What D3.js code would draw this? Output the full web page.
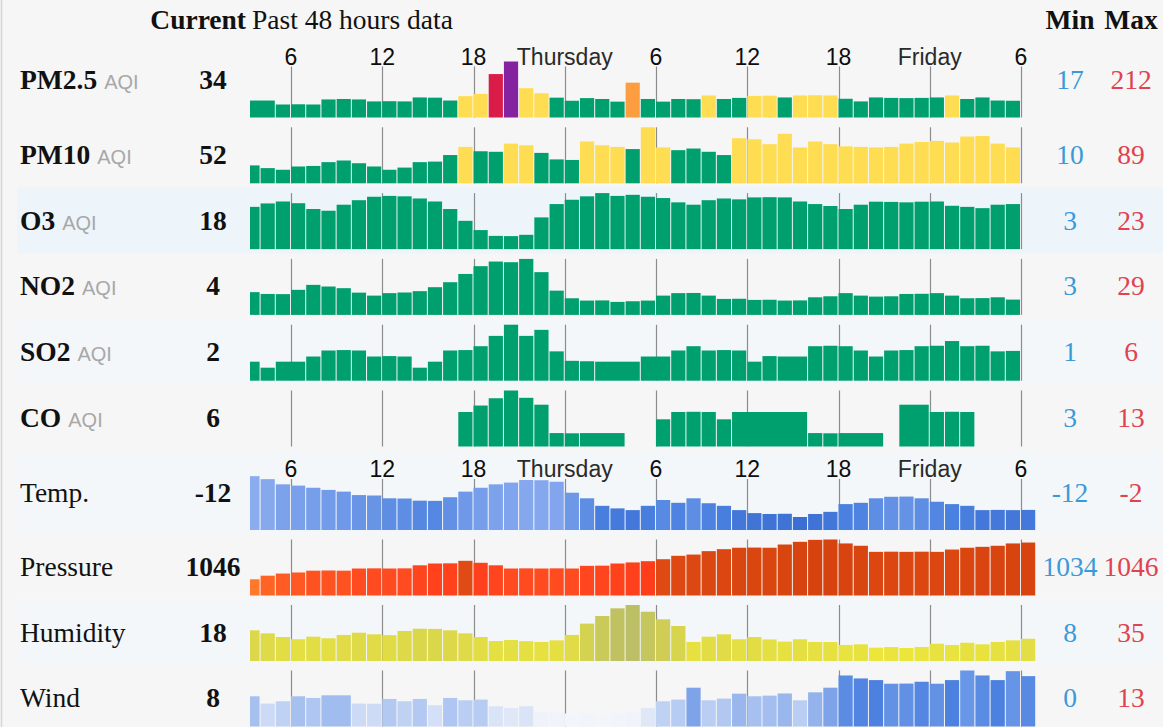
<!DOCTYPE html>
<html><head><meta charset="utf-8">
<script src="https://cdn.jsdelivr.net/npm/d3@7"></script>
<style>
html,body{margin:0;padding:0;background:#f6f6f6;}
svg{display:block;}
</style></head><body>
<svg id="chart" width="1163" height="727"></svg>
<script>
// ---------- data ----------
const aqiHours = [3,4,5,6,7,8,9,10,11,12,13,14,15,16,17,18,19,20,21,22,23,24,25,26,27,28,29,30,31,32,33,34,35,36,37,38,39,40,41,42,43,44,45,46,47,48,49,50,51,52,53];
const wxHours  = [3,4,5,6,7,8,9,10,11,12,13,14,15,16,17,18,19,20,21,22,23,24,25,26,27,28,29,30,31,32,33,34,35,36,37,38,39,40,41,42,43,44,45,46,47,48,49,50,51,52,53,54];
const tickHours  = [6,12,18,24,30,36,42,48,54];
const tickLabels = ["6","12","18","Thursday","6","12","18","Friday","6"];

const rowNames   = ["PM2.5","PM10","O3","NO2","SO2","CO","Temp.","Pressure","Humidity","Wind"];
const rowUnits   = ["AQI","AQI","AQI","AQI","AQI","AQI","","","",""];
const currentVals= ["34","52","18","4","2","6","-12","1046","18","8"];
const minVals    = [17,10,3,3,1,3,-12,1034,8,0];
const maxVals    = [212,89,23,29,6,13,-2,1046,35,13];

const pm25 = [35,35,17,18,17,40,42,40,31,32,31,49,48,35,55,65,155,212,91,68,48,34,46,42,30,116,42,30,42,41,58,42,47,56,57,49,58,59,58,43,31,49,47,46,47,49,58,42,49,35,34];
const pm10 = [19,14,11,17,18,25,28,23,17,11,15,25,26,38,53,45,44,59,56,42,30,29,63,56,53,49,89,52,47,50,44,38,69,67,58,77,52,63,58,54,53,52,53,59,62,64,61,72,73,59,52];
const o3   = [16.6,18.2,19.1,18.3,15.6,14.8,17.6,19.7,21.3,21.7,21.5,20.5,19.1,15.6,10.1,5.8,3.1,3,3.6,11.7,17.9,19.9,21.5,23,21.7,22.2,21.3,20.7,18.7,17.6,19.7,20.5,20.1,21,21.1,21,19.1,17.9,17,15.6,17.6,19,18.9,18.7,19,19.1,17.1,16.6,16,17.6,17.9];
const no2  = [8.9,7.8,7.7,10.3,13.3,12.3,11.3,8.6,6.8,8.3,8.7,9.5,11.9,14.9,19.9,24.6,27.4,27,29,21,9.8,5.2,3.8,3.9,3,3.4,3.8,6.8,8.3,8.4,6.8,4.8,4.9,4.2,4.3,3.8,3.9,5.8,6.4,8.3,6.8,6.2,6.4,7.8,7.9,8.3,6.8,5.2,5.3,5.8,4.4];
const so2  = [1.7,1,1.7,1.7,2.3,3,3.05,3,2.3,2.35,2.3,1,1.7,3,3.05,3.5,4.7,6,4.7,5.4,2.9,1.8,1.75,1.7,1.7,1.7,2.3,2.3,3,3.5,3,3.05,3,1.7,2.35,2.3,2.3,3.5,3.55,3.5,3,2.3,3,3.05,3.5,3.55,4.1,3.5,3.55,2.9,2.95];
const co   = [null,null,null,null,null,null,null,null,null,null,null,null,null,null,8,9.5,11.2,13,11.3,9.7,3.1,3.05,3.1,3.1,3.1,null,null,6.3,8,8.05,8,6.3,8,8,8,8,8,3.1,3.05,3.1,3.1,3.1,null,9.7,9.7,8,8.05,8,null,null,null];
const temp = [-2.5,-3.2,-4.4,-4.7,-5.2,-5.7,-6.1,-6.9,-7.0,-7.65,-7.7,-8.2,-8.25,-7.4,-6.1,-5.2,-4.4,-4.0,-3.4,-3.45,-3.8,-6.35,-7.65,-9.4,-10.0,-10.4,-9.4,-8.05,-8.7,-7.65,-8.8,-9.4,-10.4,-11.1,-11.3,-11.25,-12,-11.3,-10.8,-9.0,-8.7,-7.65,-7.3,-7.25,-7.65,-8.45,-9.0,-9.4,-10.4,-10.35,-10.4,-10.35];
const pressure = [1034.9,1035.9,1036.5,1036.8,1037.3,1037.35,1037.3,1037.9,1037.95,1037.9,1037.95,1038.8,1039.3,1039.35,1040.05,1039.5,1038.8,1037.9,1037.95,1037.9,1037.95,1037.9,1038.65,1038.7,1039.3,1039.6,1039.95,1040.5,1041.45,1041.8,1042.75,1043.3,1043.7,1043.75,1043.7,1044.6,1045.35,1045.9,1046,1044.9,1044.25,1042.55,1042.6,1042.55,1042.6,1042.55,1043.2,1043.7,1043.95,1044.25,1044.9,1045.15];
const humidity = [19.1,17.2,14.9,13.5,15.1,14.1,16.2,17.6,16.6,16.1,18.7,20.1,20.0,19.1,17.2,14.9,12.4,13.0,12.3,11.8,12.8,16.2,23.3,28.1,32.9,35,30.8,26.0,21.8,11.8,15.1,16.6,13.5,14.9,13.4,12.0,13.5,11.8,11.75,9.9,10.3,8.2,8.6,8,8.65,10.7,9.9,11.3,10.3,11.8,12.8,13.8];
const wind = [5.2,3.0,3.7,5.2,4.7,5.5,5.5,3.0,2.95,4.4,3.7,4.4,2.5,4.7,4.0,4.2,2.2,1.7,2.2,0.4,0.3,0,0.1,0,0.2,0.3,1.7,3.7,4.2,7.8,4.0,4.5,6.0,5.2,5.4,6.05,4.0,6.4,7.8,11.5,10.6,10.1,9.0,9.05,9.6,9.0,10.1,13,11.5,10.1,12.8,11.3];

const seriesList = [pm25, pm10, o3, no2, so2, co, temp, pressure, humidity, wind];

// ---------- layout ----------
const svg = d3.select("#chart");
const W = 1163, H = 727;
const serif = "'Liberation Serif','Times New Roman',serif";
const sans = "'Liberation Sans',Arial,sans-serif";
const FS = 27.5;
const x = d3.scaleLinear().domain([6, 54]).range([291, 1021]);
const BAR_MIN = 13, BAR_MAX = 56;

const bottoms = rowNames.map((_, i) => i < 6 ? 117.5 + 65.8 * i : 530 + 65.5 * (i - 6));
const sectionFirst = i => i === 0 || i === 6;

// colours
const aqiColor = v => v <= 50 ? "#00a06e" : v <= 100 ? "#fedd53" : v <= 150 ? "#fc9d40" : v <= 200 ? "#d91d48" : v <= 300 ? "#85229f" : "#7e0023";
const tempColor = d3.scaleLinear().domain([-12, -9, -7, -2]).range(["#3c6fd3", "#4a80e0", "#6894e6", "#90aff1"]);
const presColor = d3.scaleLinear().domain([1034, 1036, 1038, 1039.99, 1040, 1046]).range(["#ff8a30", "#ff6224", "#ff4a1f", "#ff3d1b", "#e04a14", "#d6430e"]);
const humColor = d3.scaleLinear().domain([8, 20, 35]).range(["#ebe53c", "#dbd74b", "#bcbf66"]);
const windColor = d3.scaleLinear().domain([0, 2, 5, 8, 10, 13]).range(["#f3f5fb", "#dde6f8", "#a9c2f0", "#7ba1e8", "#4b80e0", "#6897e7"]);
const colorFns = [aqiColor, aqiColor, aqiColor, aqiColor, aqiColor, aqiColor,
  v => tempColor(v), v => presColor(v), v => humColor(v), v => windColor(v)];

// background & bands
svg.append("rect").attr("width", W).attr("height", H).attr("fill", "#f6f6f6");
const cellTop = i => i === 0 ? 0 : (i === 6 ? 450.8 : bottoms[i] - 61.5);
const cellBot = i => i === 5 ? 450.8 : (i >= 6 ? bottoms[i] + 4.4 : bottoms[i] + 4.3);
[2, 4, 6, 8].forEach(i => {
  svg.append("rect").attr("x", 17).attr("y", cellTop(i)).attr("width", W - 17)
    .attr("height", cellBot(i) - cellTop(i)).attr("fill", i === 2 ? "#edf5fa" : "#f3f7f9");
});
svg.append("line").attr("x1", 1.5).attr("x2", 1.5).attr("y1", 0).attr("y2", H)
  .attr("stroke", "#d6d6d6").attr("stroke-width", 1.5);

// clip
svg.append("defs").append("clipPath").attr("id", "plotclip")
  .append("rect").attr("x", 250).attr("y", 0).attr("width", W - 250).attr("height", H);

// header
svg.append("text").attr("x", 246).attr("y", 29).attr("text-anchor", "end")
  .attr("font-family", serif).attr("font-size", FS).attr("font-weight", "bold").attr("fill", "#111").text("Current");
svg.append("text").attr("x", 252).attr("y", 29)
  .attr("font-family", serif).attr("font-size", FS).attr("fill", "#111").text("Past 48 hours data");
svg.append("text").attr("x", 1070).attr("y", 29).attr("text-anchor", "middle")
  .attr("font-family", serif).attr("font-size", FS).attr("font-weight", "bold").attr("fill", "#111").text("Min");
svg.append("text").attr("x", 1131).attr("y", 29).attr("text-anchor", "middle")
  .attr("font-family", serif).attr("font-size", FS).attr("font-weight", "bold").attr("fill", "#111").text("Max");

// tick labels for the two sections
[65, 477].forEach(yb => {
  svg.append("g").selectAll("text").data(tickHours).join("text")
    .attr("x", d => x(d)).attr("y", yb).attr("text-anchor", "middle")
    .attr("font-family", sans).attr("font-size", 23)
    .attr("fill", (d, i) => tickLabels[i].length > 2 ? "#2a2a2a" : "#0d0d0d")
    .text((d, i) => tickLabels[i]);
});

// rows
function runs(values, hours) {
  const out = [];
  values.forEach((v, i) => {
    if (v === null || v === undefined) return;
    const h = hours[i];
    const last = out[out.length - 1];
    if (last && last.end === h - 1 && last.v === v) last.end = h;
    else out.push({ start: h, end: h, v: v });
  });
  return out;
}

rowNames.forEach((name, i) => {
  const bottom = bottoms[i];
  const vals = seriesList[i];
  const hours = i < 6 ? aqiHours : wxHours;
  const hScale = d3.scaleLinear().domain([minVals[i], maxVals[i]]).range([BAR_MIN, BAR_MAX]);
  const g = svg.append("g");

  // tick lines (behind bars)
  const tTop = sectionFirst(i) ? bottom - 51 : bottom - 56;
  g.append("g").selectAll("line").data(tickHours).join("line")
    .attr("x1", d => Math.round(x(d)) + 0.5).attr("x2", d => Math.round(x(d)) + 0.5)
    .attr("y1", tTop).attr("y2", bottom)
    .attr("stroke", "#8c8c8c").attr("stroke-width", 1.2);

  // bars
  g.append("g").attr("clip-path", "url(#plotclip)")
    .selectAll("rect").data(runs(vals, hours)).join("rect")
    .attr("x", d => x(d.start))
    .attr("width", d => x(d.end + 1) - x(d.start) - 1)
    .attr("y", d => bottom - Math.max(0, hScale(d.v)))
    .attr("height", d => Math.max(0, hScale(d.v)))
    .attr("fill", d => colorFns[i](d.v));

  // texts
  const yb = sectionFirst(i) ? bottom - 28.5 : bottom - 19.5;
  const t = svg.append("text").attr("x", 20).attr("y", yb).attr("fill", "#111");
  t.append("tspan").attr("font-family", serif).attr("font-size", FS)
    .attr("font-weight", i < 6 ? "bold" : "normal").text(name);
  if (rowUnits[i]) {
    t.append("tspan").attr("dx", 7).attr("font-family", sans).attr("font-size", 20)
      .attr("fill", "#a8a8a8").text(rowUnits[i]);
  }
  svg.append("text").attr("x", 213).attr("y", yb).attr("text-anchor", "middle")
    .attr("font-family", serif).attr("font-size", FS).attr("font-weight", "bold").attr("fill", "#111")
    .text(currentVals[i]);
  svg.append("text").attr("x", 1070).attr("y", yb).attr("text-anchor", "middle")
    .attr("font-family", serif).attr("font-size", FS).attr("fill", "#3a9ad9").text(minVals[i]);
  svg.append("text").attr("x", 1131).attr("y", yb).attr("text-anchor", "middle")
    .attr("font-family", serif).attr("font-size", FS).attr("fill", "#e0424f").text(maxVals[i]);
});
</script>
</body></html>
